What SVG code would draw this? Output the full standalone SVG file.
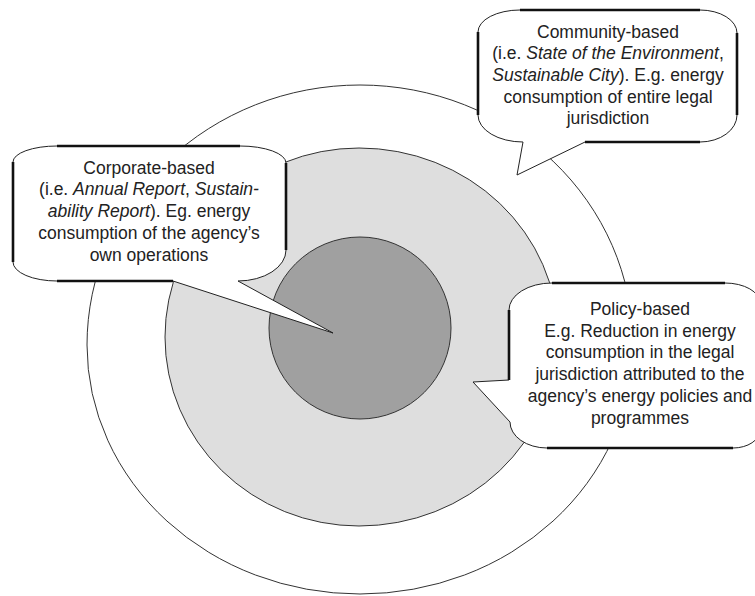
<svg xmlns="http://www.w3.org/2000/svg" width="755" height="596" viewBox="0 0 755 596">
<style>
.ring{stroke:#333;stroke-width:1}
.box{fill:#fff;stroke:#222;stroke-width:1;stroke-linejoin:miter}
.edge{stroke:#111;stroke-width:2.6;fill:none}
text{font-family:"Liberation Sans",Arial,sans-serif;font-size:17.5px;fill:#222;text-anchor:middle}
.i{font-style:italic}
</style>
<rect width="755" height="596" fill="#fff"/>
<g id="rings">
<path id="outer" class="ring" fill="#fff" d="M 87 345 A 273 260 0 0 1 360 85 A 273 260 0 0 1 633 345 A 273 249 0 0 1 360 594 A 273 249 0 0 1 87 345 Z"/>
<path id="middle" class="ring" fill="#dedede" d="M 165 337 A 194 189 0 0 1 359 148 A 199 189 0 0 1 558 337 A 199 189 0 0 1 359 526 A 194 189 0 0 1 165 337 Z"/>
<circle id="inner" class="ring" fill="#a0a0a0" cx="360" cy="328" r="91"/>
</g>
<g id="connectors"></g>
<g id="corporate">
<path class="box" d="M 57 146 L 240 146 A 46 17 0 0 1 286 163 L 286 250 A 48 31 0 0 1 238 281 L 333 333 L 173 281 L 57 281 A 44 19 0 0 1 13 262 L 13 162 A 44 16 0 0 1 57 146 Z"/>
<path class="edge" d="M 57 146 H 240 M 286 163 V 250 M 173 281 H 57 M 13 262 V 162"/>
<text x="149" y="173.5">Corporate-based</text>
<text x="149" y="195.2">(i.e. <tspan class="i">Annual Report</tspan>, <tspan class="i">Sustain-</tspan></text>
<text x="149" y="217"><tspan class="i">ability Report</tspan>). Eg. energy</text>
<text x="149" y="238.8">consumption of the agency’s</text>
<text x="149" y="260.5">own operations</text>
</g>
<g id="community">
<path class="box" d="M 520 10 L 700 10 A 37 23 0 0 1 737 33 L 737 115 A 37 27 0 0 1 700 142 L 585 142 L 517 175 L 523 142 A 45 27 0 0 1 478 115 L 478 32 A 42 22 0 0 1 520 10 Z"/>
<path class="edge" d="M 520 10 H 700 M 737 33 V 115 M 700 142 H 585 M 478 115 V 32"/>
<text x="608" y="37.5">Community-based</text>
<text x="608" y="59.3">(i.e. <tspan class="i">State of the Environment</tspan>,</text>
<text x="608" y="81"><tspan class="i">Sustainable City</tspan>). E.g. energy</text>
<text x="608" y="102.7">consumption of entire legal</text>
<text x="608" y="124">jurisdiction</text>
</g>
<g id="policy">
<path class="box" d="M 552 283 L 725 283 A 35 20 0 0 1 760 303 L 760 430 A 27 18 0 0 1 733 448 L 547 448 A 37 26 0 0 1 510 422 L 473 382 L 509 380 L 509 310 A 43 27 0 0 1 552 283 Z"/>
<path class="edge" d="M 552 283 H 725 M 733 448 H 547 M 509 380 V 310"/>
<text x="640" y="315">Policy-based</text>
<text x="640" y="336.7">E.g. Reduction in energy</text>
<text x="640" y="358.4">consumption in the legal</text>
<text x="640" y="380.1">jurisdiction attributed to the</text>
<text x="640" y="401.8">agency’s energy policies and</text>
<text x="640" y="423.5">programmes</text>
</g>
</svg>
